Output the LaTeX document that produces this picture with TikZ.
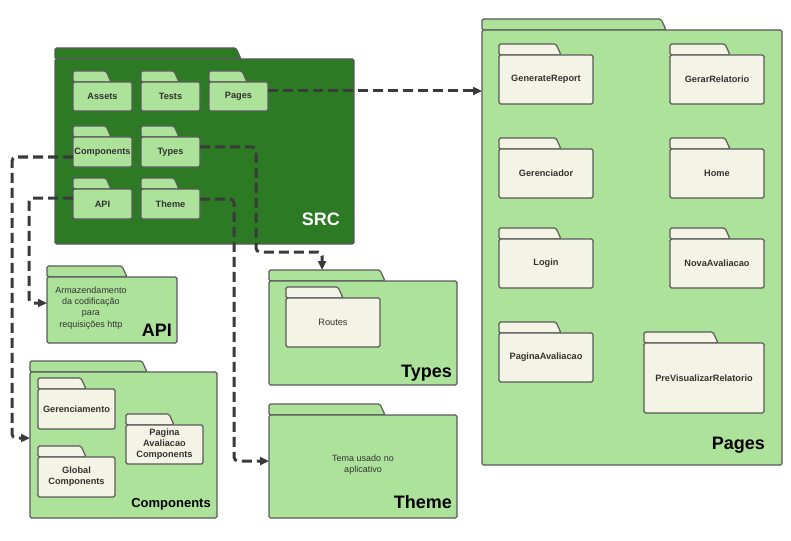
\documentclass[tikz,border=0pt]{standalone}
\usepackage{fontspec}
\setmainfont{Liberation Sans}
\usepackage{tikz}
\usetikzlibrary{calc}
\usetikzlibrary{positioning}
\usetikzlibrary{arrows.meta}
\definecolor{verdeclaro}{HTML}{ADE29B}
\definecolor{verdeescuro}{HTML}{2C7A24}
\definecolor{creme}{HTML}{F4F4E6}
\definecolor{borda}{HTML}{5A5A5A}
\definecolor{texto}{HTML}{333333}
\definecolor{seta}{HTML}{3A3A3A}
\tikzset{
  folder/.style = {draw=borda, line width=1.2pt, rounded corners=1.5pt, inner sep=0pt, outer sep=0pt,
    font=\bfseries\fontsize{9.2}{11}\selectfont, text=texto, align=center},
  lightfolder/.style = {folder, fill=verdeclaro},% pasta verde clara
  darkfolder/.style = {folder, fill=verdeescuro},% pasta src
  creamfolder/.style = {folder, fill=creme},% sub-pasta
  notetext/.style = {font=\fontsize{9}{11.3}\selectfont, text=texto, align=center},
  bigtitle/.style = {font=\bfseries\fontsize{18}{20}\selectfont, anchor=base east, inner sep=0pt},
  dashlink/.style = {draw=seta, line width=3pt, dash pattern=on 10pt off 5pt, rounded corners=4pt,
    -{Triangle[length=9pt,width=8pt]}},
}
% style, nome, esquerda, topo, direita, base, fim da aba, texto
\newcommand{\pasta}[8]{%
  \draw[#1] (#3,#4) -- (#3,#4-11) -- (#7,#4-11) -- (#7+5,#4) -- cycle;
  \node[#1, minimum width=#5-#3, minimum height=#6-#4] (#2) at ({(#3+#5)/2},{(#4+#6)/2}) {#8};}

\begin{document}
\begin{tikzpicture}[x=1pt,y=-1pt]
    \useasboundingbox (0,0) rectangle (791,540);

    % SRC
    \pasta{darkfolder}{src}{55}{59}{354}{244}{236}{}
    \pasta{lightfolder}{cAssets}{73}{82}{132}{111}{106}{Assets}
    \pasta{lightfolder}{cTests}{141}{82}{200}{111}{174}{Tests}
    \pasta{lightfolder}{cPages}{209}{82}{268}{111}{242}{Pages}
    \pasta{lightfolder}{cComp}{73}{137}{132}{167}{106}{Components}
    \pasta{lightfolder}{cTypes}{141}{137}{200}{167}{174}{Types}
    \pasta{lightfolder}{cApi}{73}{189}{132}{219}{106}{API}
    \pasta{lightfolder}{cTheme}{141}{189}{200}{219}{174}{Theme}
    \node[bigtitle, text=white] (tSrc) at ([xshift=-14pt,yshift=19pt]src.south east) {SRC};

    % API
    \pasta{lightfolder}{pApi}{47}{277}{177}{343}{122}{}
    \node[notetext] (txtApi) at (91,308) {Armazendamento\\da codificação\\para\\requisições http};
    \node[bigtitle] (tApi) at ([xshift=-5pt,yshift=7pt]pApi.south east) {API};

    % Components
    \pasta{lightfolder}{pComp}{30}{372}{217}{518}{142}{}
    \pasta{creamfolder}{gGerenc}{38}{389}{115}{429}{81}{Gerenciamento}
    \pasta{creamfolder}{gGlobal}{38}{457}{115}{497}{81}{Global\\Components}
    \pasta{creamfolder}{gPagAv}{126}{425}{203}{464}{169}{Pagina\\Avaliacao\\Components}
    \node[bigtitle, font=\bfseries\fontsize{13}{15}\selectfont] (tComp) at ([xshift=-6pt,yshift=11pt]pComp.south east) {Components};

    % Types
    \pasta{lightfolder}{pTypes}{269}{281}{457}{385}{380}{}
    \pasta{creamfolder}{gRoutes}{286}{298}{380}{347}{338}{\mdseries Routes}
    \node[bigtitle] (tTypes) at ([xshift=-5pt,yshift=8pt]pTypes.south east) {Types};

    % Theme
    \pasta{lightfolder}{pTheme}{269}{415}{457}{518}{380}{}
    \node[notetext] (txtTheme) at (363,464.5) {Tema usado no\\aplicativo};
    \node[bigtitle] (tTheme) at ([xshift=-5pt,yshift=10pt]pTheme.south east) {Theme};

    % Pages
    \pasta{lightfolder}{pPages}{482}{30}{782}{465}{661}{}
    \pasta{creamfolder}{gGenRep}{499}{55}{593}{104}{556}{GenerateReport}
    \pasta{creamfolder}{gGerRel}{670}{55}{764}{104}{725}{GerarRelatorio}
    \pasta{creamfolder}{gGerenciador}{499}{149}{593}{198}{556}{Gerenciador}
    \pasta{creamfolder}{gHome}{670}{149}{764}{198}{725}{Home}
    \pasta{creamfolder}{gLogin}{499}{239}{593}{288}{556}{Login}
    \pasta{creamfolder}{gNova}{670}{239}{764}{288}{725}{NovaAvaliacao}
    \pasta{creamfolder}{gPagAval}{499}{333}{593}{382}{556}{PaginaAvaliacao}
    \pasta{creamfolder}{gPreVis}{644}{343}{764}{413}{713}{PreVisualizarRelatorio}
    \node[bigtitle] (tPages) at ([xshift=-17pt,yshift=16pt]pPages.south east) {Pages};

    % ligacoes
    \coordinate (sPages) at ([yshift=5.5pt]cPages.east);
    \coordinate (sComp) at ([yshift=-5pt]cComp.west);
    \coordinate (sApi) at ([yshift=6pt]cApi.west);
    \coordinate (sTypes) at ([yshift=5pt]cTypes.east);
    \coordinate (sTheme) at ([yshift=5pt]cTheme.east);
    \coordinate (eTypes) at (322,270);

    \draw[dashlink] (sPages) -- (sPages -| pPages.west);
    \draw[dashlink] (sComp) -- ++(-61,0) |- ([yshift=7pt]pComp.west);
    \draw[dashlink] (sApi) -- ++(-44,0) |- ([yshift=7pt]pApi.west);
    \draw[dashlink] (sTypes) -- ++(56,0) -- ++(0,105) -| (eTypes);
    \draw[dashlink] (sTheme) -- ++(34,0) |- ([yshift=5.5pt]pTheme.west);
\end{tikzpicture}
\end{document}
